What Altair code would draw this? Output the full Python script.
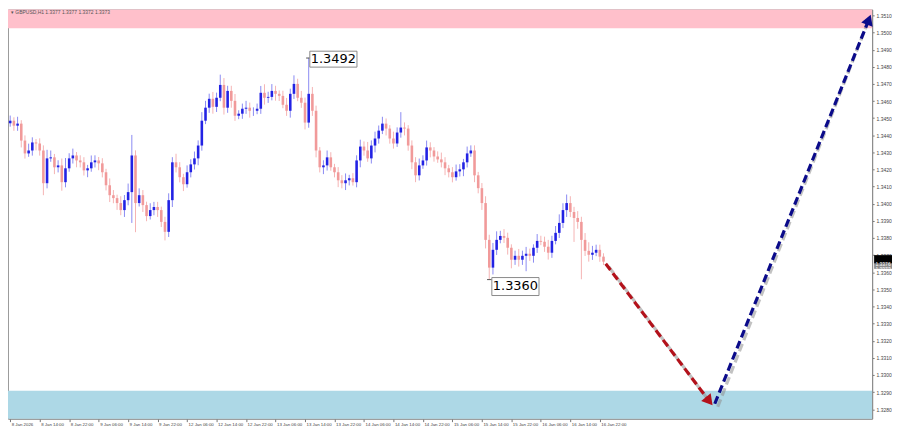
import json
import altair as alt
import pandas as pd

# ---------------- data ----------------
open_first = 1.34470
closes = [
    1.34485, 1.34456, 1.34468, 1.34369, 1.34294, 1.34311, 1.34358, 1.34352, 1.34311, 1.34120,
    1.34265, 1.34271, 1.34213, 1.34224, 1.34126, 1.34207, 1.34265, 1.34282, 1.34253, 1.34242,
    1.34195, 1.34207, 1.34242, 1.34253, 1.34236, 1.34184, 1.34108, 1.34050, 1.34033, 1.34004,
    1.33963, 1.34021, 1.34068, 1.34282, 1.34004, 1.34050, 1.33992, 1.33928, 1.33963, 1.33981,
    1.33963, 1.33894, 1.33836, 1.34021, 1.34242, 1.34213, 1.34155, 1.34114, 1.34184, 1.34230,
    1.34265, 1.34340, 1.34485, 1.34561, 1.34613, 1.34566, 1.34619, 1.34694, 1.34561, 1.34659,
    1.34601, 1.34514, 1.34526, 1.34555, 1.34561, 1.34543, 1.34543, 1.34555, 1.34648, 1.34619,
    1.34624, 1.34659, 1.34642, 1.34630, 1.34578, 1.34543, 1.34642, 1.34700, 1.34619, 1.34590,
    1.34474, 1.34642, 1.34543, 1.34311, 1.34213, 1.34224, 1.34271, 1.34213, 1.34184, 1.34137,
    1.34120, 1.34137, 1.34149, 1.34126, 1.34253, 1.34334, 1.34311, 1.34265, 1.34340, 1.34381,
    1.34427, 1.34468, 1.34439, 1.34381, 1.34352, 1.34416, 1.34445, 1.34439, 1.34340, 1.34242,
    1.34166, 1.34224, 1.34253, 1.34329, 1.34311, 1.34276, 1.34259, 1.34242, 1.34207, 1.34184,
    1.34155, 1.34189, 1.34201, 1.34242, 1.34294, 1.34311, 1.34166, 1.34091, 1.34004, 1.33789,
    1.33627, 1.33731, 1.33789, 1.33812, 1.33801, 1.33743, 1.33673, 1.33696, 1.33673, 1.33696,
    1.33708, 1.33696, 1.33743, 1.33783, 1.33778, 1.33749, 1.33714, 1.33783, 1.33830, 1.33888,
    1.33963, 1.34004, 1.33952, 1.33917, 1.33894, 1.33789, 1.33725, 1.33702, 1.33714, 1.33731,
    1.33691, 1.33662,
]
# upper / lower shadows in pips
wick_up = [
    3, 2, 4, 2, 3, 4, 3, 2, 3, 3,
    5, 4, 2, 3, 4, 6, 3, 4, 2, 3,
    3, 2, 4, 3, 2, 3, 2, 4, 3, 2,
    4, 3, 5, 12, 3, 4, 3, 2, 4, 3,
    3, 2, 3, 4, 3, 5, 3, 2, 4, 3,
    4, 3, 5, 4, 3, 4, 3, 6, 4, 3,
    3, 4, 2, 3, 4, 3, 2, 3, 4, 5,
    3, 4, 3, 2, 3, 4, 3, 5, 3, 4,
    3, 21, 4, 3, 2, 3, 4, 3, 2, 3,
    3, 4, 2, 3, 3, 4, 3, 5, 3, 4,
    3, 4, 3, 2, 4, 3, 9, 3, 2, 3,
    3, 4, 3, 4, 3, 2, 3, 4, 3, 2,
    3, 4, 3, 2, 4, 3, 3, 2, 3, 4,
    3, 4, 5, 3, 4, 3, 2, 3, 4, 3,
    4, 3, 2, 4, 3, 3, 4, 3, 4, 5,
    4, 5, 4, 3, 4, 3, 4, 5, 4, 3,
    3, 2,
]
wick_dn = [
    2, 3, 3, 4, 3, 2, 3, 4, 3, 7,
    3, 2, 4, 3, 5, 3, 2, 3, 4, 3,
    3, 4, 2, 3, 4, 3, 3, 4, 3, 4,
    3, 4, 3, 18, 17, 2, 4, 3, 2, 3,
    4, 3, 5, 3, 4, 3, 3, 4, 2, 3,
    3, 4, 3, 2, 3, 4, 3, 2, 4, 3,
    4, 3, 2, 3, 3, 4, 3, 2, 3, 4,
    3, 2, 4, 3, 2, 3, 4, 3, 2, 3,
    4, 3, 3, 4, 3, 4, 3, 2, 3, 4,
    3, 4, 3, 2, 3, 4, 3, 2, 3, 4,
    3, 2, 4, 3, 3, 2, 3, 4, 3, 4,
    4, 3, 2, 3, 4, 3, 2, 3, 4, 3,
    3, 2, 3, 4, 3, 2, 4, 3, 4, 5,
    7, 4, 3, 2, 3, 4, 5, 3, 4, 3,
    9, 3, 4, 3, 2, 3, 4, 3, 2, 3,
    3, 4, 3, 14, 4, 23, 3, 4, 3, 2,
    3, 2,
]
time_labels = [
    "8 Jan 2026", "8 Jan 14:00", "8 Jan 22:00", "9 Jan 06:00", "9 Jan 14:00",
    "9 Jan 22:00", "12 Jan 06:00", "12 Jan 14:00", "12 Jan 22:00", "13 Jan 06:00",
    "13 Jan 14:00", "13 Jan 22:00", "14 Jan 06:00", "14 Jan 14:00", "14 Jan 22:00",
    "15 Jan 06:00", "15 Jan 14:00", "15 Jan 22:00", "16 Jan 06:00", "16 Jan 14:00",
    "16 Jan 22:00",
]
time_label_bars = [0, 8, 16, 24, 32, 40, 48, 56, 64, 72, 80, 88, 96, 104, 112,
                   120, 128, 136, 144, 152, 160]
price_ticks = [1.3280, 1.3290, 1.3300, 1.3310, 1.3320, 1.3330, 1.3340, 1.3350,
               1.3360, 1.3370, 1.3380, 1.3390, 1.3400, 1.3410, 1.3420, 1.3430,
               1.3440, 1.3450, 1.3460, 1.3470, 1.3480, 1.3490, 1.3500, 1.3510]

zone_low = [1.35025, 1.3260]
zone_high = [1.3540, 1.32908]
zone_colors = ["#ffc0cb", "#add8e6"]

arrow_x0 = [161.6, 191.2]
arrow_y0 = [1.33650, 1.32832]
arrow_x1 = [189.7, 233.0]
arrow_y1 = [1.32847, 1.35075]
arrow_angle = [141, 21]
arrow_colors = ["#b3121b", "#0b0b8a"]

note_text = ["1.3492", "1.3360"]
note_x = [87.7, 137.1]
note_y = [1.34845, 1.33517]
note_x0 = [81.3, 130.7]
note_x1 = [94.1, 143.5]
note_y0 = [1.34798, 1.33464]
note_y1 = [1.34891, 1.33569]
leader_x0 = [80.3, 129.4]
leader_x1 = [81.3, 130.7]
leader_y = [1.34851, 1.33557]

header_text = "\u25be GBPUSD,H1  1.3377 1.3377 1.3372 1.3373"
last_labels = ["1.3376", "1.3373"]
last_label_y0 = [1.33650, 1.33620]
last_label_y1 = [1.33700, 1.33650]
last_label_colors = ["#000000", "#8c8c8c"]

# ---------------- tables ----------------
opens = [open_first] + closes[:-1]
candles = pd.DataFrame({
    "i": list(range(len(closes))),
    "open": opens,
    "close": closes,
    "high": [max(o, c) + u / 10000 for o, c, u in zip(opens, closes, wick_up)],
    "low": [min(o, c) - d / 10000 for o, c, d in zip(opens, closes, wick_dn)],
})
zones = pd.DataFrame({"lo": zone_low, "hi": zone_high, "col": zone_colors})
arrows = pd.DataFrame({"x0": arrow_x0, "y0": arrow_y0, "x1": arrow_x1, "y1": arrow_y1,
                       "ang": arrow_angle, "col": arrow_colors})
notes = pd.DataFrame({"t": note_text, "x": note_x, "y": note_y, "x0": note_x0, "x1": note_x1,
                      "y0": note_y0, "y1": note_y1, "lx0": leader_x0, "lx1": leader_x1,
                      "ly": leader_y})
lastlab = pd.DataFrame({"t": last_labels, "y0": last_label_y0, "y1": last_label_y1,
                        "col": last_label_colors})

W, H = 870, 412
xs = alt.Scale(domain=[-0.6, 233.9], nice=False, zero=False)
ys = alt.Scale(domain=[1.32745, 1.35135], nice=False, zero=False)
label_expr = json.dumps(time_labels) + "[round(datum.value / 8)]"
x_axis = alt.Axis(values=time_label_bars, labelExpr=label_expr, title=None, grid=False,
                  labelFontSize=4.4, labelColor="#444444", labelAlign="left", labelPadding=1,
                  tickSize=3, tickColor="#777777", domainColor="#8a8a8a",
                  labelOverlap=False, labelFlush=False, labelFont="Liberation Sans",
                  labelOffset=1)
y_axis = alt.Axis(orient="right", values=price_ticks, format=".4f", title=None, grid=False,
                  labelFontSize=5, labelColor="#444444", tickSize=2, labelPadding=2,
                  tickColor="#777777", domainColor="#8a8a8a", labelOverlap=False,
                  labelFont="Liberation Sans")


def X(f):
    return alt.X(f, type="quantitative", scale=xs, axis=x_axis)


def Y(f):
    return alt.Y(f, type="quantitative", scale=ys, axis=y_axis)


bull = "datum.close >= datum.open"

zone_layer = alt.Chart(zones).mark_rect(clip=True).encode(
    x=alt.value(0), x2=alt.value(W), y=Y("lo"), y2="hi",
    color=alt.Color("col:N", scale=None))

wick_layer = alt.Chart(candles).mark_rule(strokeWidth=1).encode(
    x=X("i"), y=Y("low"), y2="high",
    color=alt.condition(bull, alt.value("#8a8af2"), alt.value("#f5b3b3")))

body_layer = alt.Chart(candles).mark_rule(strokeWidth=2.6, strokeCap="butt").encode(
    x=X("i"), y=Y("open"), y2="close",
    color=alt.condition(bull, alt.value("#2222e4"), alt.value("#f19a9a")))

shadow_layer = alt.Chart(arrows).mark_rule(strokeWidth=3.2, strokeDash=[8, 4],
                                           color="#8f8f8f", opacity=0.55).encode(
    x=X("x0"), y=Y("y0"), x2="x1", y2="y1",
    xOffset=alt.value(3), yOffset=alt.value(3))

arrow_layer = alt.Chart(arrows).mark_rule(strokeWidth=3.2, strokeDash=[8, 4], clip=False).encode(
    x=X("x0"), y=Y("y0"), x2="x1", y2="y1", color=alt.Color("col:N", scale=None))

head_layer = alt.Chart(arrows).mark_point(shape="triangle-up", filled=True, size=150,
                                          opacity=1).encode(
    x=X("x1"), y=Y("y1"), angle=alt.Angle("ang:Q", scale=None),
    color=alt.Color("col:N", scale=None))

leader_layer = alt.Chart(notes).mark_rule(strokeWidth=1, color="#555555").encode(
    x=X("lx0"), x2="lx1", y=Y("ly"))

box_layer = alt.Chart(notes).mark_rect(fill="white", stroke="#8a8a8a", strokeWidth=1).encode(
    x=X("x0"), x2="x1", y=Y("y0"), y2="y1")

note_layer = alt.Chart(notes).mark_text(font="DejaVu Sans", fontSize=13, color="#000000",
                                        baseline="middle", align="center").encode(
    x=X("x"), y=Y("y"), text="t:N")

header_layer = alt.Chart(pd.DataFrame({"t": [header_text]})).mark_text(
    font="Liberation Sans", fontSize=5, color="#555555", align="left", baseline="middle").encode(
    x=alt.value(3), y=alt.value(3), text="t:N")

last_box = alt.Chart(lastlab).mark_rect(clip=False).encode(
    x=alt.value(W + 2), x2=alt.value(W + 20), y=Y("y0"), y2="y1",
    color=alt.Color("col:N", scale=None))
last_text = alt.Chart(lastlab).mark_text(font="Liberation Sans", fontSize=5, color="white",
                                         baseline="middle", align="center").encode(
    x=alt.value(W + 11), y=Y("y0"), text="t:N")

chart = alt.layer(
    zone_layer, wick_layer, body_layer, shadow_layer, arrow_layer, head_layer,
    leader_layer, box_layer, note_layer, header_layer, last_box, last_text,
).properties(
    width=W, height=H, padding={"left": 0, "right": 0, "top": 0, "bottom": 0},
    background="white",
).configure_view(stroke="#9a9a9a", strokeWidth=1)

chart.save("out.html", embed_options={"renderer": "svg", "actions": False})
